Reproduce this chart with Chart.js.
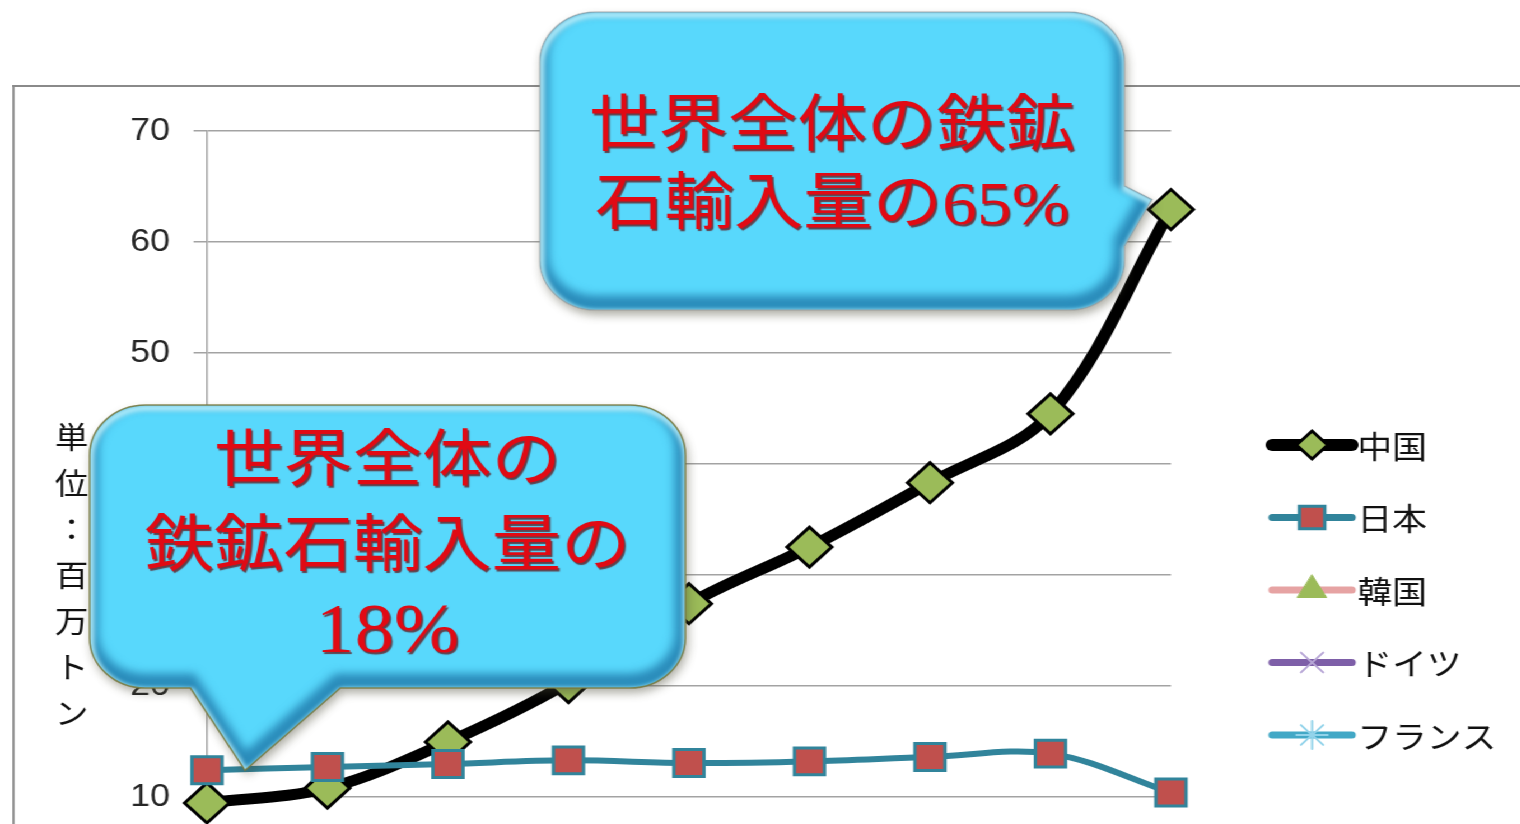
<!DOCTYPE html>
<html lang="ja">
<head>
<meta charset="utf-8">
<title>鉄鉱石輸入量</title>
<script src="https://cdn.jsdelivr.net/npm/chart.js@4.4.1/dist/chart.umd.min.js"></script>
<style>
  html, body { margin: 0; padding: 0; background: #fff; overflow: hidden; }
  /* the whole slide is drawn a little wide, so stretch it horizontally */
  #wrap { position: absolute; left: 0; top: 0; width: 1357px; height: 960px; transform: scaleX(1.12); transform-origin: 0 0; }
  #frame { position: absolute; left: 11px; top: 85px; width: 1500px; height: 900px; border-top: 2px solid #8a8a8a; border-left: 2px solid #8a8a8a; }
  #myChart { position: absolute; left: 0; top: 0; }
</style>
</head>
<body>
<div id="wrap">
  <div id="frame"></div>
  <canvas id="myChart" width="1357" height="960"></canvas>
</div>
<script>
// years on the category axis
const years = ['2001', '2002', '2003', '2004', '2005', '2006', '2007', '2008', '2009'];

// iron ore imports per country
const china = [9.46, 10.8, 14.95, 20.3, 27.4, 32.5, 38.3, 44.5, 62.9];
const japan = [12.4, 12.7, 12.97, 13.3, 13.06, 13.2, 13.6, 13.9, 10.4];
// Korea, Germany and France stay under the 10 line, nothing kept for them here
const korea = [];
const germany = [];
const france = [];

// value axis
const yMax = 70;
const yStep = 10;
const yTitle = '単位：百万トン';

// speech bubble texts
const noteChina = ['世界全体の鉄鉱', '石輸入量の65%'];
const noteJapan = ['世界全体の', '鉄鉱石輸入量の', '18%'];

// rounded box with a pointer on one side
function calloutPath(ctx, b) {
    const { x, y, w, h, r, tail } = b;
    ctx.beginPath();
    ctx.moveTo(x + r, y);
    ctx.lineTo(x + w - r, y);
    ctx.arcTo(x + w, y, x + w, y + r, r);
    if (tail.side === 'right') {
        ctx.lineTo(x + w, tail.a);
        ctx.lineTo(tail.tip[0], tail.tip[1]);
        ctx.lineTo(x + w, tail.b);
    }
    ctx.lineTo(x + w, y + h - r);
    ctx.arcTo(x + w, y + h, x + w - r, y + h, r);
    if (tail.side === 'bottom') {
        ctx.lineTo(tail.b, y + h);
        ctx.lineTo(tail.tip[0], tail.tip[1]);
        ctx.lineTo(tail.a, y + h);
    }
    ctx.lineTo(x + r, y + h);
    ctx.arcTo(x, y + h, x, y + h - r, r);
    ctx.lineTo(x, y + r);
    ctx.arcTo(x, y, x + r, y, r);
    ctx.closePath();
}

function drawCallout(ctx, b, lines, lineYs, sizes, outline) {
    // drop shadow and dark base
    ctx.save();
    ctx.shadowColor = 'rgba(70,70,50,0.45)';
    ctx.shadowBlur = 10;
    ctx.shadowOffsetX = 2;
    ctx.shadowOffsetY = 5;
    calloutPath(ctx, b);
    ctx.fillStyle = '#2F98C6';
    ctx.fill();
    ctx.restore();

    // face with a bevelled rim
    ctx.save();
    calloutPath(ctx, b);
    ctx.clip();
    ctx.fillStyle = '#58D8FC';
    ctx.fill();
    ctx.filter = 'blur(4px)';
    ctx.save();
    ctx.translate(-1, -6);
    calloutPath(ctx, b);
    ctx.strokeStyle = '#2A8BBA';
    ctx.lineWidth = 17;
    ctx.stroke();
    ctx.restore();
    ctx.filter = 'blur(2px)';
    ctx.save();
    ctx.translate(1, 3);
    calloutPath(ctx, b);
    ctx.strokeStyle = 'rgba(190,244,255,0.9)';
    ctx.lineWidth = 6;
    ctx.stroke();
    ctx.restore();
    ctx.restore();

    ctx.save();
    calloutPath(ctx, b);
    ctx.strokeStyle = outline;
    ctx.lineWidth = 1.5;
    ctx.stroke();
    ctx.restore();

    // red text
    ctx.save();
    ctx.textAlign = 'center';
    ctx.textBaseline = 'middle';
    ctx.fillStyle = '#E00A14';
    ctx.shadowColor = 'rgba(100,0,0,0.7)';
    ctx.shadowOffsetX = 1.5;
    ctx.shadowOffsetY = 1.5;
    ctx.shadowBlur = 1;
    const cx = b.x + b.w / 2;
    lines.forEach((t, i) => {
        ctx.font = sizes[i] + 'px "Liberation Serif", "Noto Sans CJK JP"';
        ctx.fillText(t, cx, lineYs[i]);
    });
    ctx.restore();
}

// legend, axis title and bubbles drawn on top of the chart
const overlays = {
    id: 'overlays',
    afterDraw(chart) {
        const ctx = chart.ctx;
        const xs = chart.scales.x;
        const ys = chart.scales.y;

        // legend on the right, a line sample with its marker
        chart.data.datasets.forEach((ds, i) => {
            const y = 445 + i * 72.5;
            ctx.save();
            ctx.strokeStyle = ds.borderColor;
            ctx.lineWidth = ds.legendLine;
            ctx.lineCap = 'round';
            ctx.beginPath();
            ctx.moveTo(1136, y);
            ctx.lineTo(1207, y);
            ctx.stroke();
            ctx.fillStyle = ds.pointBackgroundColor;
            ctx.strokeStyle = ds.pointBorderColor;
            ctx.lineWidth = ds.pointBorderWidth;
            Chart.helpers.drawPoint(ctx, {
                pointStyle: ds.pointStyle,
                radius: ds.legendRadius,
                rotation: 0,
                borderWidth: ds.pointBorderWidth
            }, 1171.5, y);
            ctx.fillStyle = '#111';
            ctx.font = '31px "Noto Sans CJK JP"';
            ctx.textAlign = 'left';
            ctx.textBaseline = 'middle';
            ctx.fillText(ds.label, 1212, y + 1);
            ctx.restore();
        });

        // vertical unit title, one character per row
        ctx.save();
        ctx.fillStyle = '#111';
        ctx.font = '30px "Noto Sans CJK JP"';
        ctx.textAlign = 'center';
        ctx.textBaseline = 'middle';
        Array.from(yTitle).forEach((ch, i) => ctx.fillText(ch, 64, 437 + i * 46));
        ctx.restore();

        // bubble pointing at Japan's first year
        drawCallout(ctx, {
            x: 80, y: 405, w: 532, h: 283, r: 50,
            tail: { side: 'bottom', a: 170, b: 304, tip: [xs.getPixelForValue(0) + 34, ys.getPixelForValue(japan[0])] }
        }, noteJapan, [465, 550, 634], [62, 62, 70], 'rgba(120,120,60,0.85)');

        // bubble pointing at China's last year
        drawCallout(ctx, {
            x: 482, y: 12, w: 522, h: 298, r: 50,
            tail: { side: 'right', a: 186, b: 246, tip: [xs.getPixelForValue(8) - 17, ys.getPixelForValue(china[8]) - 10] }
        }, noteChina, [130, 208], [62, 62], 'rgba(150,150,150,0.5)');
    }
};

const chart = new Chart(document.getElementById('myChart'), {
    type: 'line',
    data: {
        labels: years,
        datasets: [
            {
                label: '中国', data: china, order: 1,
                borderColor: '#000', borderWidth: 11, tension: 0.35,
                pointStyle: 'rectRot', pointRadius: 20,
                pointBackgroundColor: '#9BBB59', pointBorderColor: '#000', pointBorderWidth: 3,
                legendLine: 12, legendRadius: 14
            },
            {
                label: '日本', data: japan, order: 0,
                borderColor: '#31849B', borderWidth: 6, tension: 0.35,
                pointStyle: 'rect', pointRadius: 19,
                pointBackgroundColor: '#C0504D', pointBorderColor: '#31849B', pointBorderWidth: 3,
                legendLine: 7, legendRadius: 16
            },
            {
                label: '韓国', data: korea, order: 2,
                borderColor: '#E6A3A3', borderWidth: 6,
                pointStyle: 'triangle', pointRadius: 12,
                pointBackgroundColor: '#9BBB59', pointBorderColor: '#9BBB59', pointBorderWidth: 1,
                legendLine: 7, legendRadius: 15
            },
            {
                label: 'ドイツ', data: germany, order: 3,
                borderColor: '#7E5FA8', borderWidth: 6,
                pointStyle: 'crossRot', pointRadius: 12,
                pointBackgroundColor: '#B7A6D6', pointBorderColor: '#B7A6D6', pointBorderWidth: 2,
                legendLine: 7, legendRadius: 14
            },
            {
                label: 'フランス', data: france, order: 4,
                borderColor: '#42A8C6', borderWidth: 6,
                pointStyle: 'star', pointRadius: 12,
                pointBackgroundColor: '#92D3EA', pointBorderColor: '#92D3EA', pointBorderWidth: 2,
                legendLine: 7, legendRadius: 14
            }
        ]
    },
    options: {
        responsive: false,
        animation: false,
        devicePixelRatio: 1,
        layout: { padding: { top: 130.7, right: 311.5, left: 0, bottom: 0 } },
        elements: { line: { borderCapStyle: 'round', borderJoinStyle: 'round' } },
        datasets: { line: { clip: false } },
        plugins: { legend: { display: false }, tooltip: { enabled: false } },
        scales: {
            x: {
                offset: false,
                grid: { display: false },
                border: { display: false },
                ticks: { display: false },
                afterFit(s) { s.height = 52; }
            },
            y: {
                min: 0,
                max: yMax,
                ticks: {
                    stepSize: yStep,
                    color: '#262626',
                    padding: 21,
                    font: { family: 'Liberation Sans', size: 32 }
                },
                grid: { color: '#A3A3A3', lineWidth: 1.5, tickLength: 12 },
                border: { color: '#A3A3A3', width: 1.5 },
                afterFit(s) { s.width = 184.8; }
            }
        }
    },
    plugins: [overlays]
});
</script>
</body>
</html>
